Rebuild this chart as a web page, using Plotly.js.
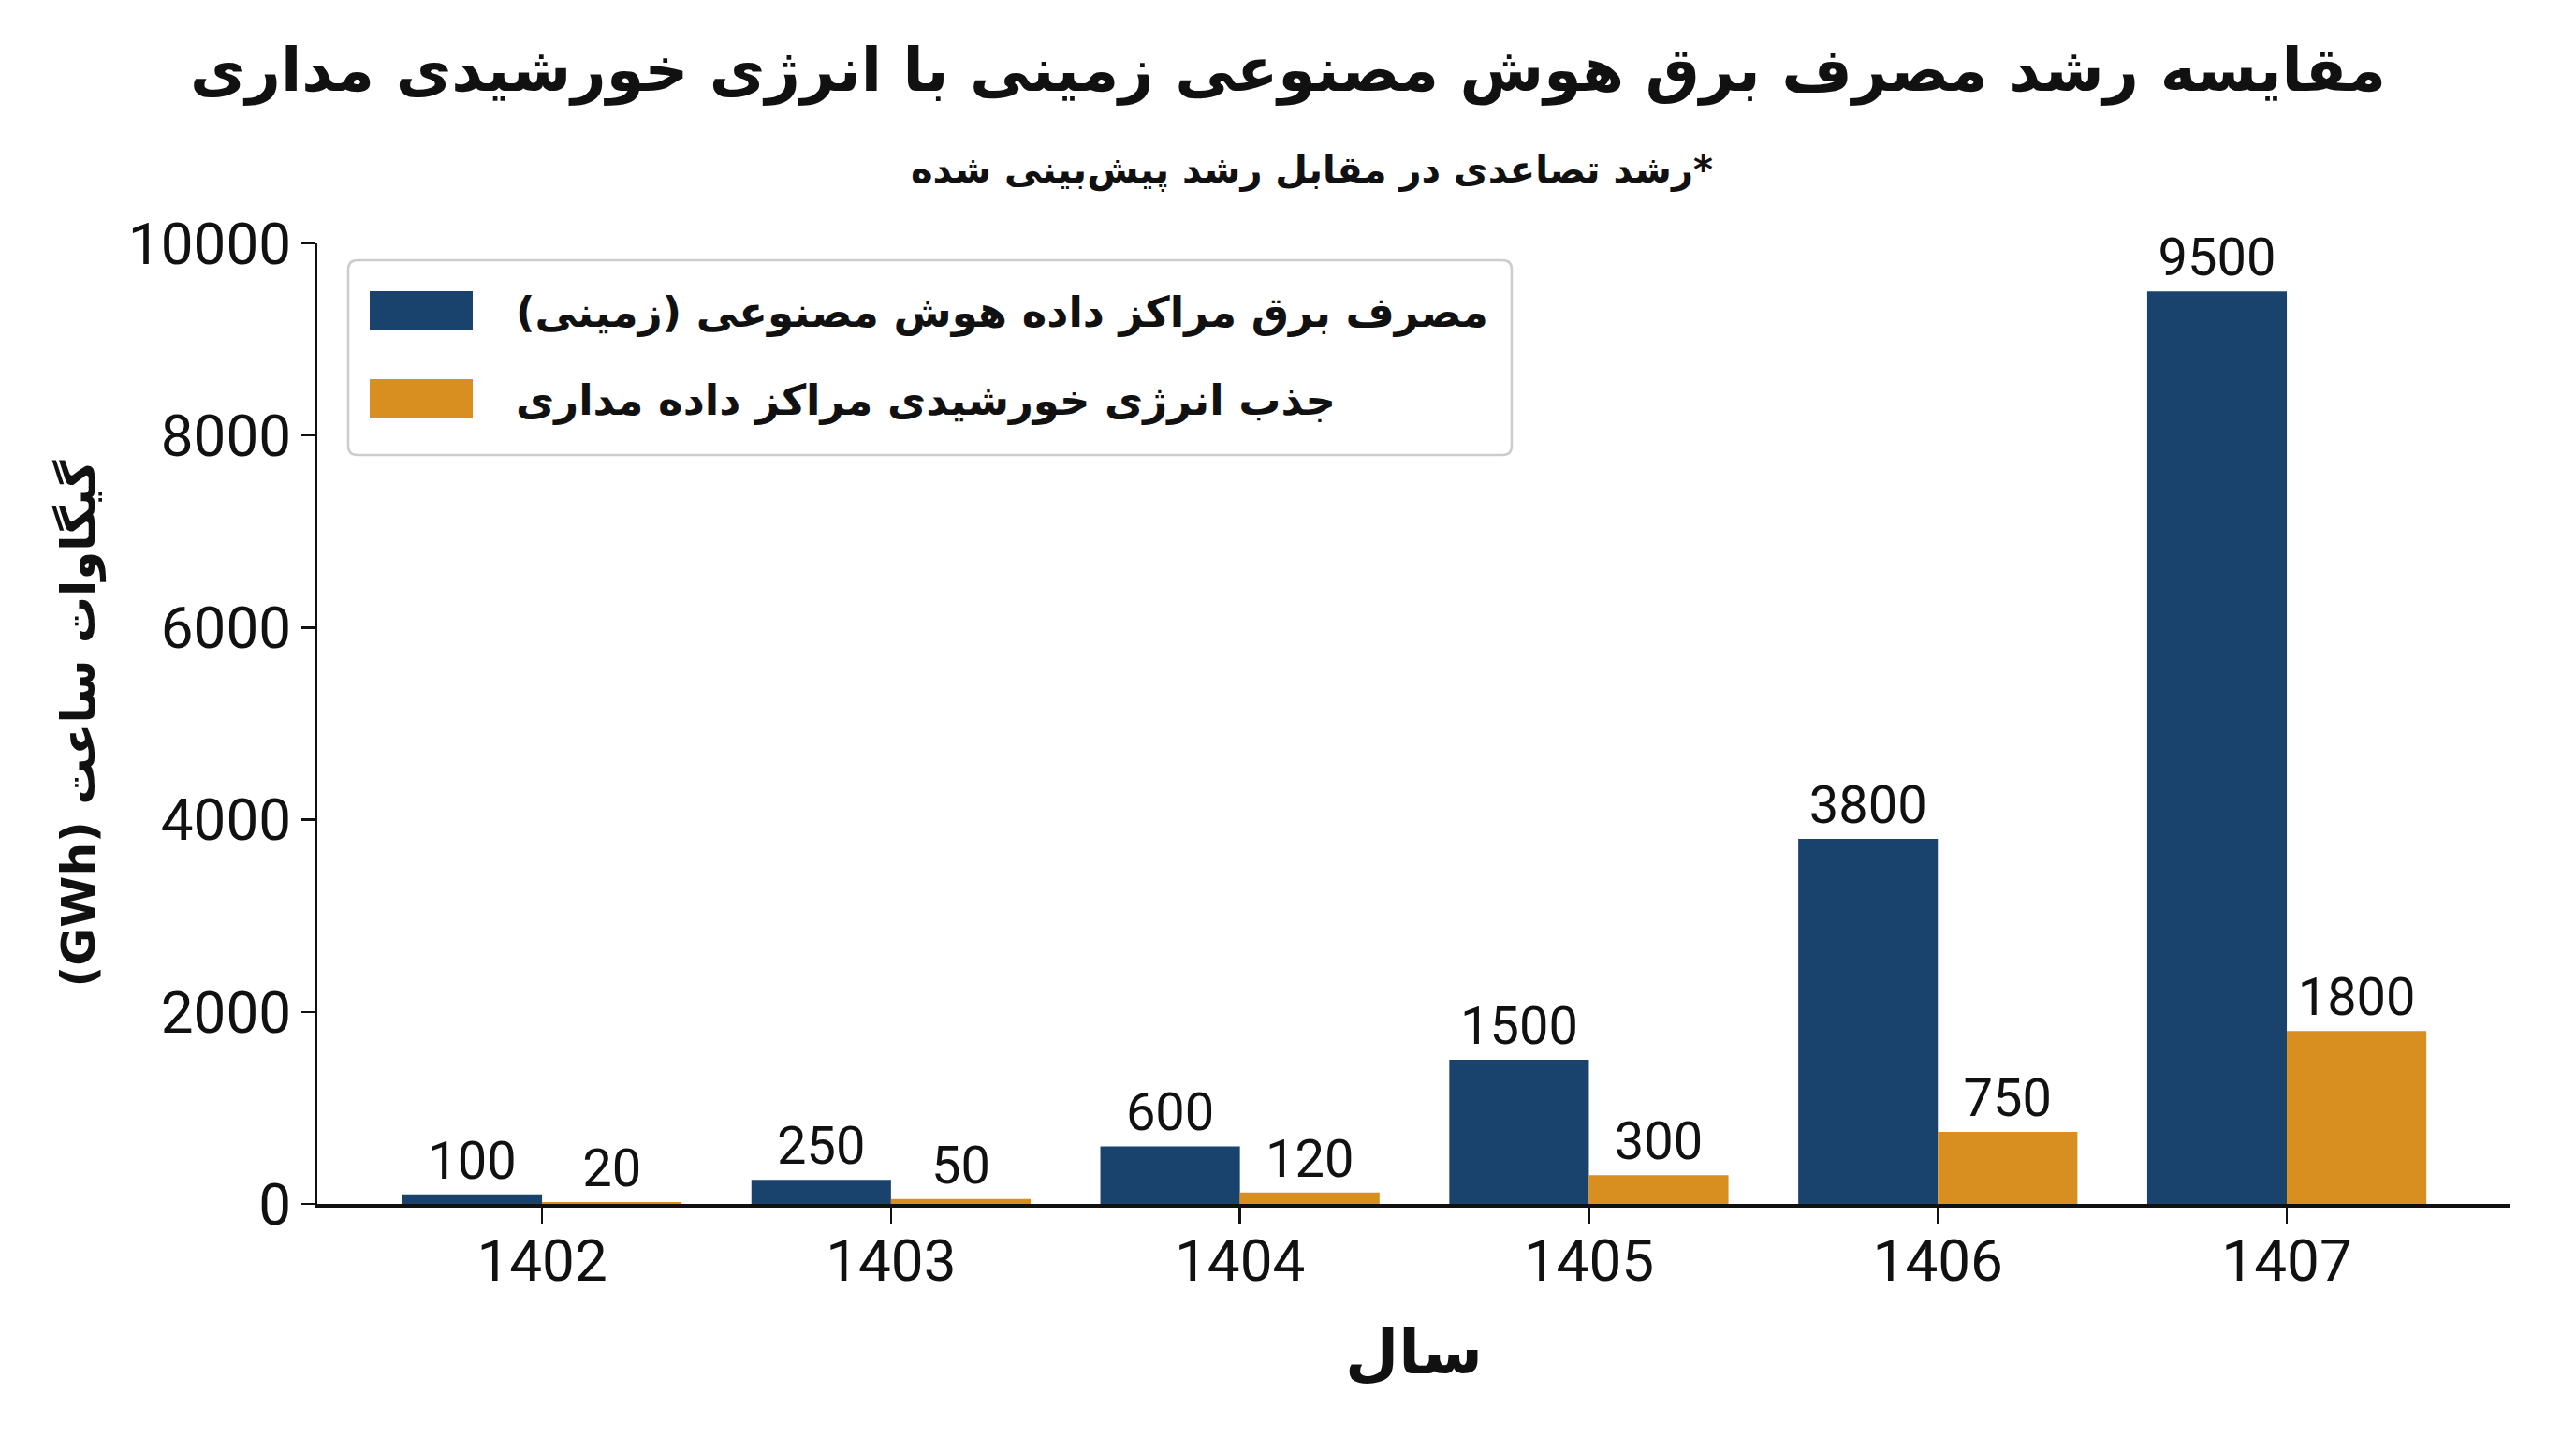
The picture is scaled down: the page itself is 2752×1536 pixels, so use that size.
<!DOCTYPE html>
<html>
<head>
<meta charset="utf-8">
<script src="https://cdn.plot.ly/plotly-3.0.1.min.js"></script>
<style>
  html, body { margin: 0; padding: 0; background: #fff; }
</style>
</head>
<body>
<div id="chart"></div>
<script>
// chart data
const years = ['1402', '1403', '1404', '1405', '1406', '1407'];
const groundAiPower = [100, 250, 600, 1500, 3800, 9500];
const orbitalSolar = [20, 50, 120, 300, 750, 1800];
const seriesNames = [
  'مصرف برق مراکز داده هوش مصنوعی (زمینی)',
  'جذب انرژی خورشیدی مراکز داده مداری',
];
const yTicks = [0, 2000, 4000, 6000, 8000, 10000];

const W = 2752;
const H = 1536;
const BLUE = '#19426d';
const ORANGE = '#d98e20';
const FA = 'DejaVu Sans, sans-serif';
const NUM = 'Roboto, Arial, sans-serif';

// plot box in pixels
const plotL = 339;
const plotR = 2682;
const plotT = 260;
const plotB = 1286;

// wrap persian text so it lays out right-to-left
const rtl = (s) => `\u202B${s}\u202C`;
// pixel -> paper coords, only used for the hand drawn legend
const px = (x) => (x - plotL) / (plotR - plotL);
const py = (y) => (plotB - y) / (plotB - plotT);

const traces = [
  {
    type: 'bar',
    name: seriesNames[0],
    x: years,
    y: groundAiPower,
    marker: { color: BLUE },
    text: groundAiPower.map(String),
    textposition: 'outside',
    constraintext: 'none',
    cliponaxis: false,
    textfont: { family: NUM, size: 56, color: '#111' },
    hoverinfo: 'none',
  },
  {
    type: 'bar',
    name: seriesNames[1],
    x: years,
    y: orbitalSolar,
    marker: { color: ORANGE },
    text: orbitalSolar.map(String),
    textposition: 'outside',
    constraintext: 'none',
    cliponaxis: false,
    textfont: { family: NUM, size: 56, color: '#111' },
    hoverinfo: 'none',
  },
];

// legend box (rounded), swatches and labels
function roundRect(x0, y0, x1, y1, r) {
  // pixel coords in, paper path out
  const pts = [
    ['M', x0 + r, y0], ['L', x1 - r, y0], ['Q', x1, y0, x1, y0 + r],
    ['L', x1, y1 - r], ['Q', x1, y1, x1 - r, y1], ['L', x0 + r, y1],
    ['Q', x0, y1, x0, y1 - r], ['L', x0, y0 + r], ['Q', x0, y0, x0 + r, y0],
  ];
  return pts.map((p) => {
    const cmd = p[0];
    const nums = [];
    for (let i = 1; i < p.length; i += 2) {
      nums.push(`${px(p[i]).toFixed(5)},${py(p[i + 1]).toFixed(5)}`);
    }
    return cmd + nums.join(' ');
  }).join(' ') + ' Z';
}

const legendShapes = [
  {
    type: 'path', xref: 'paper', yref: 'paper',
    path: roundRect(372, 278, 1615, 486, 10),
    fillcolor: 'rgba(255,255,255,0.85)',
    line: { color: '#cccccc', width: 2.5 },
  },
  {
    type: 'rect', xref: 'paper', yref: 'paper',
    x0: px(395), x1: px(505), y0: py(353), y1: py(311),
    fillcolor: BLUE, line: { width: 0 },
  },
  {
    type: 'rect', xref: 'paper', yref: 'paper',
    x0: px(395), x1: px(505), y0: py(446), y1: py(405),
    fillcolor: ORANGE, line: { width: 0 },
  },
];

const legendLabels = [
  { y: 333, text: seriesNames[0] },
  { y: 427, text: seriesNames[1] },
].map((item) => ({
  xref: 'paper', yref: 'paper',
  x: px(549), y: py(item.y),
  xanchor: 'left', yanchor: 'middle',
  showarrow: false,
  text: `<b>${rtl(item.text)}</b>`,
  font: { family: FA, size: 45, color: '#111' },
}));

const layout = {
  width: W,
  height: H,
  paper_bgcolor: '#fff',
  plot_bgcolor: '#fff',
  margin: { l: plotL, r: W - plotR, t: plotT, b: H - plotB, pad: 0 },
  showlegend: false,
  barmode: 'group',
  bargap: 0.2,
  bargroupgap: 0,
  title: {
    text: `<b>${rtl('مقایسه رشد مصرف برق هوش مصنوعی زمینی با انرژی خورشیدی مداری')}</b>`,
    font: { family: FA, size: 65, color: '#111' },
    xref: 'container', x: 0.5, xanchor: 'center',
    yref: 'container', y: 1 - 74 / H, yanchor: 'middle',
  },
  xaxis: {
    type: 'category',
    range: [-0.644, 5.641],
    showline: true,
    linecolor: '#111',
    linewidth: 3.5,
    ticks: 'outside',
    ticklen: 17,
    tickwidth: 2.5,
    tickcolor: '#111',
    showgrid: false,
    zeroline: false,
    tickfont: { family: NUM, size: 62, color: '#111' },
    ticklabelstandoff: -13,
    title: {
      text: `<b>${rtl('سال')}</b>`,
      font: { family: FA, size: 66, color: '#111' },
      standoff: 40,
    },
  },
  yaxis: {
    range: [0, 10000],
    tickvals: yTicks,
    ticktext: yTicks.map(String),
    showline: true,
    linecolor: '#111',
    linewidth: 3.5,
    ticks: 'outside',
    ticklen: 14,
    tickwidth: 2.5,
    tickcolor: '#111',
    showgrid: false,
    zeroline: false,
    tickfont: { family: NUM, size: 62, color: '#111' },
    ticklabelstandoff: -2,
    title: {
      text: `<b>${rtl('گیگاوات ساعت (GWh)')}</b>`,
      font: { family: FA, size: 50, color: '#111' },
      standoff: 20,
    },
  },
  shapes: legendShapes,
  annotations: [
    {
      xref: 'paper', yref: 'paper',
      x: px(1401), y: py(181),
      xanchor: 'center', yanchor: 'middle',
      showarrow: false,
      text: `<b>${rtl('*رشد تصاعدی در مقابل رشد پیش‌بینی شده')}</b>`,
      font: { family: FA, size: 40, color: '#111' },
    },
    ...legendLabels,
  ],
};

Plotly.newPlot('chart', traces, layout, { displayModeBar: false, staticPlot: true });
</script>
</body>
</html>
